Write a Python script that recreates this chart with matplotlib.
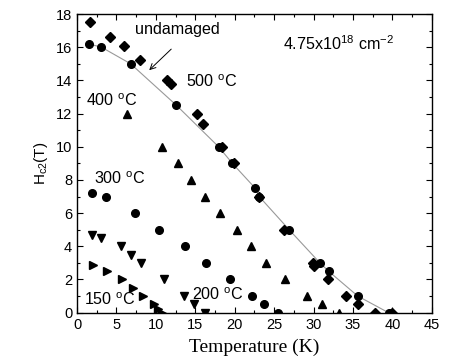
import matplotlib
matplotlib.use("Agg")
import matplotlib.pyplot as plt
from matplotlib.ticker import MultipleLocator

# undamaged (circles on curve)
undamaged_T = [1.5, 3.1, 6.8, 12.6, 17.95, 19.7, 22.6, 23.1, 26.9, 30.8, 31.9, 35.6, 39.5]
undamaged_H = [16.2, 16.0, 15.0, 12.5, 10.0, 9.0, 7.5, 7.0, 5.0, 3.0, 2.5, 1.0, 0.0]

# 500 C (diamonds)
d500_T = [1.65, 4.2, 6.0, 8.0, 11.4, 11.9, 15.2, 16.0, 18.4, 19.9, 23.1, 26.3, 29.95, 30.0, 31.8, 34.05, 35.6, 37.8, 40.0]
d500_H = [17.5, 16.6, 16.1, 15.2, 14.0, 13.8, 12.0, 11.4, 10.0, 9.0, 7.0, 5.0, 3.0, 2.8, 2.0, 1.0, 0.5, 0.0, 0.0]

# 400 C (up triangles)
d400_T = [6.4, 10.8, 12.85, 14.45, 16.2, 18.1, 20.3, 22.0, 24.0, 26.4, 29.2, 31.1, 33.2]
d400_H = [12.0, 10.0, 9.0, 8.0, 7.0, 6.0, 5.0, 4.0, 3.0, 2.0, 1.0, 0.5, 0.0]

# 300 C (circles)
d300_T = [1.95, 3.7, 7.35, 10.4, 13.7, 16.4, 19.4, 22.2, 23.7, 25.5]
d300_H = [7.2, 7.0, 6.0, 5.0, 4.0, 3.0, 2.0, 1.0, 0.5, 0.0]

# 200 C (down triangles)
d200_T = [1.95, 3.1, 5.6, 6.85, 8.15, 11.0, 13.6, 14.8, 16.2]
d200_H = [4.7, 4.5, 4.0, 3.5, 3.0, 2.0, 1.0, 0.5, 0.0]

# 150 C (right triangles)
d150_T = [2.0, 3.8, 5.75, 7.05, 8.35, 9.7, 10.3, 10.8]
d150_H = [2.9, 2.5, 2.0, 1.5, 1.0, 0.5, 0.2, 0.0]

x_ticks = [0, 5, 10, 15, 20, 25, 30, 35, 40, 45]
y_ticks = [0, 2, 4, 6, 8, 10, 12, 14, 16, 18]

sans = ["Liberation Sans", "DejaVu Sans"]
serif = ["Liberation Serif", "DejaVu Serif"]
plt.rcParams["font.family"] = sans
plt.rcParams["mathtext.fontset"] = "custom"
plt.rcParams["mathtext.rm"] = "Liberation Sans"
plt.rcParams["mathtext.it"] = "Liberation Sans"

fig = plt.figure(figsize=(4.71, 3.64), dpi=100)
ax = fig.add_axes([0.1635, 0.141, 0.7535, 0.8205])

ax.plot(undamaged_T, undamaged_H, color="#999999", lw=0.8, zorder=1)
ax.plot(undamaged_T, undamaged_H, "o", color="black", ms=5.5, zorder=3)
ax.plot(d500_T, d500_H, "D", color="black", ms=4.8, zorder=3)
ax.plot(d400_T, d400_H, "^", color="black", ms=5.5, zorder=3)
ax.plot(d300_T, d300_H, "o", color="black", ms=5.5, zorder=3)
ax.plot(d200_T, d200_H, "v", color="black", ms=5.5, zorder=3)
ax.plot(d150_T, d150_H, ">", color="black", ms=5.5, zorder=3)

fs = 11.6
ax.text(13.8, 13.9, "500 $^{\\rm o}$C", fontsize=fs, va="center", ha="left")
ax.text(1.2, 12.8, "400 $^{\\rm o}$C", fontsize=fs, va="center", ha="left")
ax.text(2.2, 8.1, "300 $^{\\rm o}$C", fontsize=fs, va="center", ha="left")
ax.text(0.9, 0.77, "150 $^{\\rm o}$C", fontsize=fs, va="center", ha="left")
ax.text(14.6, 1.07, "200 $^{\\rm o}$C", fontsize=fs, va="center", ha="left")
ax.text(26.1, 16.2, "4.75x10$^{18}$ cm$^{-2}$", fontsize=fs, va="center", ha="left")
ax.text(7.4, 17.05, "undamaged", fontsize=fs, va="center", ha="left")
ax.annotate("", xy=(8.9, 14.5), xytext=(12.2, 16.0),
            arrowprops=dict(arrowstyle="->", color="black", lw=0.7))

ax.set_xlim(0, 45)
ax.set_ylim(0, 18)
ax.set_xticks(x_ticks)
ax.set_yticks(y_ticks)
ax.xaxis.set_minor_locator(MultipleLocator(2.5))
ax.yaxis.set_minor_locator(MultipleLocator(1))
ax.tick_params(which="both", direction="in", top=True, right=True, labelsize=10.5)
ax.tick_params(which="major", length=4, width=0.8)
ax.tick_params(which="minor", length=2.5, width=0.8)
for s in ax.spines.values():
    s.set_linewidth(1.0)

ax.set_xlabel("Temperature (K)", fontfamily=serif, fontsize=14, labelpad=5)
ax.set_ylabel("H$_{c2}$(T)", fontsize=11, labelpad=4)

fig.savefig("out.png", dpi=100)
